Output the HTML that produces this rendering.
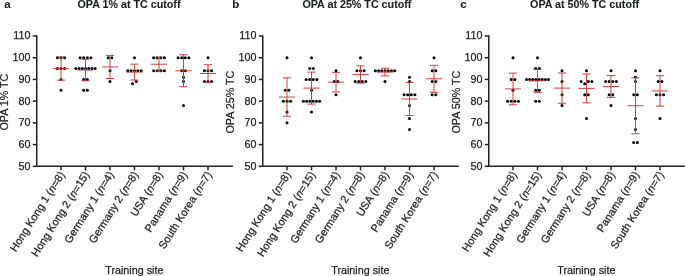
<!DOCTYPE html>
<html><head><meta charset="utf-8"><style>
html,body{margin:0;padding:0;background:#fff;width:685px;height:276px;overflow:hidden}
svg{display:block;will-change:transform}
.t{font-family:"Liberation Sans",sans-serif;font-size:10.75px;fill:#1c2020;stroke:#1c2020;stroke-width:0.25px}
.b{font-family:"Liberation Sans",sans-serif;font-weight:bold;fill:#1c2020;stroke:#1c2020;stroke-width:0.1px}
</style></head><body>
<svg width="685" height="276" viewBox="0 0 685 276">
<rect width="685" height="276" fill="#fff"/>
<path d="M36.75 35.25V166.30H232.90" fill="none" stroke="#1e2222" stroke-width="1.5"/>
<path d="M32.75 166.30H36.75" stroke="#1e2222" stroke-width="1.5"/>
<text x="30.50" y="169.70" text-anchor="end" class="t">50</text>
<path d="M32.75 144.58H36.75" stroke="#1e2222" stroke-width="1.5"/>
<text x="30.50" y="147.98" text-anchor="end" class="t">60</text>
<path d="M32.75 122.87H36.75" stroke="#1e2222" stroke-width="1.5"/>
<text x="30.50" y="126.27" text-anchor="end" class="t">70</text>
<path d="M32.75 101.15H36.75" stroke="#1e2222" stroke-width="1.5"/>
<text x="30.50" y="104.55" text-anchor="end" class="t">80</text>
<path d="M32.75 79.43H36.75" stroke="#1e2222" stroke-width="1.5"/>
<text x="30.50" y="82.83" text-anchor="end" class="t">90</text>
<path d="M32.75 57.72H36.75" stroke="#1e2222" stroke-width="1.5"/>
<text x="30.50" y="61.12" text-anchor="end" class="t">100</text>
<path d="M32.75 36.00H36.75" stroke="#1e2222" stroke-width="1.5"/>
<text x="30.50" y="39.40" text-anchor="end" class="t">110</text>
<path d="M61.00 166.30V170.30" stroke="#1e2222" stroke-width="1.5"/>
<text transform="translate(65.30 174.50) rotate(-57.5)" text-anchor="end" class="t" style="font-size:10.9px">Hong Kong 1 (<tspan font-style="italic">n</tspan>=8)</text>
<path d="M85.50 166.30V170.30" stroke="#1e2222" stroke-width="1.5"/>
<text transform="translate(89.80 174.50) rotate(-57.5)" text-anchor="end" class="t" style="font-size:10.9px">Hong Kong 2 (<tspan font-style="italic">n</tspan>=15)</text>
<path d="M110.00 166.30V170.30" stroke="#1e2222" stroke-width="1.5"/>
<text transform="translate(114.30 174.50) rotate(-57.5)" text-anchor="end" class="t" style="font-size:10.9px">Germany 1 (<tspan font-style="italic">n</tspan>=4)</text>
<path d="M134.50 166.30V170.30" stroke="#1e2222" stroke-width="1.5"/>
<text transform="translate(138.80 174.50) rotate(-57.5)" text-anchor="end" class="t" style="font-size:10.9px">Germany 2 (<tspan font-style="italic">n</tspan>=8)</text>
<path d="M159.00 166.30V170.30" stroke="#1e2222" stroke-width="1.5"/>
<text transform="translate(163.30 174.50) rotate(-57.5)" text-anchor="end" class="t" style="font-size:10.9px">USA (<tspan font-style="italic">n</tspan>=8)</text>
<path d="M183.50 166.30V170.30" stroke="#1e2222" stroke-width="1.5"/>
<text transform="translate(187.80 174.50) rotate(-57.5)" text-anchor="end" class="t" style="font-size:10.9px">Panama (<tspan font-style="italic">n</tspan>=9)</text>
<path d="M208.00 166.30V170.30" stroke="#1e2222" stroke-width="1.5"/>
<text transform="translate(212.30 174.50) rotate(-57.5)" text-anchor="end" class="t" style="font-size:10.9px">South Korea (<tspan font-style="italic">n</tspan>=7)</text>
<circle cx="57.40" cy="57.72" r="1.5" fill="#000"/>
<circle cx="61.00" cy="57.72" r="1.5" fill="#000"/>
<circle cx="64.60" cy="57.72" r="1.5" fill="#000"/>
<circle cx="57.40" cy="68.57" r="1.5" fill="#000"/>
<circle cx="61.00" cy="68.57" r="1.5" fill="#000"/>
<circle cx="64.60" cy="68.57" r="1.5" fill="#000"/>
<circle cx="61.00" cy="79.43" r="1.5" fill="#000"/>
<circle cx="61.00" cy="90.29" r="1.5" fill="#000"/>
<circle cx="80.10" cy="57.72" r="1.5" fill="#000"/>
<circle cx="83.70" cy="57.72" r="1.5" fill="#000"/>
<circle cx="87.30" cy="57.72" r="1.5" fill="#000"/>
<circle cx="90.90" cy="57.72" r="1.5" fill="#000"/>
<circle cx="75.90" cy="68.57" r="1.5" fill="#000"/>
<circle cx="79.10" cy="68.57" r="1.5" fill="#000"/>
<circle cx="82.30" cy="68.57" r="1.5" fill="#000"/>
<circle cx="85.50" cy="68.57" r="1.5" fill="#000"/>
<circle cx="88.70" cy="68.57" r="1.5" fill="#000"/>
<circle cx="91.90" cy="68.57" r="1.5" fill="#000"/>
<circle cx="95.10" cy="68.57" r="1.5" fill="#000"/>
<circle cx="83.70" cy="79.43" r="1.5" fill="#000"/>
<circle cx="87.30" cy="79.43" r="1.5" fill="#000"/>
<circle cx="83.70" cy="90.29" r="1.5" fill="#000"/>
<circle cx="87.30" cy="90.29" r="1.5" fill="#000"/>
<circle cx="108.20" cy="57.72" r="1.5" fill="#000"/>
<circle cx="111.80" cy="57.72" r="1.5" fill="#000"/>
<circle cx="110.00" cy="70.75" r="1.5" fill="#000"/>
<circle cx="110.00" cy="81.60" r="1.5" fill="#000"/>
<circle cx="134.50" cy="57.72" r="1.5" fill="#000"/>
<circle cx="127.80" cy="70.75" r="1.5" fill="#000"/>
<circle cx="131.15" cy="70.75" r="1.5" fill="#000"/>
<circle cx="134.50" cy="70.75" r="1.5" fill="#000"/>
<circle cx="137.85" cy="70.75" r="1.5" fill="#000"/>
<circle cx="141.20" cy="70.75" r="1.5" fill="#000"/>
<circle cx="136.30" cy="81.60" r="1.5" fill="#000"/>
<circle cx="132.50" cy="83.78" r="1.5" fill="#000"/>
<circle cx="153.60" cy="57.72" r="1.5" fill="#000"/>
<circle cx="157.20" cy="57.72" r="1.5" fill="#000"/>
<circle cx="160.80" cy="57.72" r="1.5" fill="#000"/>
<circle cx="164.40" cy="57.72" r="1.5" fill="#000"/>
<circle cx="153.60" cy="70.75" r="1.5" fill="#000"/>
<circle cx="157.20" cy="70.75" r="1.5" fill="#000"/>
<circle cx="160.80" cy="70.75" r="1.5" fill="#000"/>
<circle cx="164.40" cy="70.75" r="1.5" fill="#000"/>
<circle cx="178.10" cy="57.72" r="1.5" fill="#000"/>
<circle cx="181.70" cy="57.72" r="1.5" fill="#000"/>
<circle cx="185.30" cy="57.72" r="1.5" fill="#000"/>
<circle cx="188.90" cy="57.72" r="1.5" fill="#000"/>
<circle cx="181.70" cy="70.75" r="1.5" fill="#000"/>
<circle cx="185.30" cy="70.75" r="1.5" fill="#000"/>
<circle cx="183.50" cy="77.26" r="1.5" fill="#000"/>
<circle cx="183.50" cy="81.60" r="1.5" fill="#000"/>
<circle cx="183.50" cy="105.49" r="1.5" fill="#000"/>
<circle cx="208.00" cy="57.72" r="1.5" fill="#000"/>
<circle cx="204.40" cy="70.75" r="1.5" fill="#000"/>
<circle cx="208.00" cy="70.75" r="1.5" fill="#000"/>
<circle cx="211.60" cy="70.75" r="1.5" fill="#000"/>
<circle cx="204.40" cy="81.60" r="1.5" fill="#000"/>
<circle cx="208.00" cy="81.60" r="1.5" fill="#000"/>
<circle cx="211.60" cy="81.60" r="1.5" fill="#000"/>
<path d="M61.00 56.97V80.18M56.85 56.97H65.15M56.85 80.18H65.15M52.90 68.57H69.10" fill="none" stroke="#c9332e" stroke-width="1.0" stroke-opacity="0.92"/>
<path d="M85.50 59.27V80.78M81.35 59.27H89.65M81.35 80.78H89.65M77.40 70.02H93.60" fill="none" stroke="#c9332e" stroke-width="1.0" stroke-opacity="0.92"/>
<path d="M110.00 55.40V78.49M105.85 55.40H114.15M105.85 78.49H114.15M101.90 66.94H118.10" fill="none" stroke="#c9332e" stroke-width="1.0" stroke-opacity="0.92"/>
<path d="M134.50 64.15V80.06M130.35 64.15H138.65M130.35 80.06H138.65M126.40 72.10H142.60" fill="none" stroke="#c9332e" stroke-width="1.0" stroke-opacity="0.92"/>
<path d="M159.00 57.27V71.20M154.85 57.27H163.15M154.85 71.20H163.15M150.90 64.23H167.10" fill="none" stroke="#c9332e" stroke-width="1.0" stroke-opacity="0.92"/>
<path d="M183.50 54.75V86.74M179.35 54.75H187.65M179.35 86.74H187.65M175.40 70.75H191.60" fill="none" stroke="#c9332e" stroke-width="1.0" stroke-opacity="0.92"/>
<path d="M208.00 64.70V82.38M203.85 64.70H212.15M203.85 82.38H212.15M199.90 73.54H216.10" fill="none" stroke="#c9332e" stroke-width="1.0" stroke-opacity="0.92"/>
<text x="4.30" y="8.10" class="b" style="font-size:11.5px">a</text>
<text x="129.00" y="8.10" class="b" text-anchor="middle" style="font-size:10.73px">OPA 1% at TC cutoff</text>
<text transform="translate(8.20 102.10) rotate(-90)" text-anchor="middle" class="t">OPA 1% TC</text>
<text x="134.30" y="273.70" text-anchor="middle" class="t">Training site</text>
<path d="M262.75 35.25V166.30H458.90" fill="none" stroke="#1e2222" stroke-width="1.5"/>
<path d="M258.75 166.30H262.75" stroke="#1e2222" stroke-width="1.5"/>
<text x="256.50" y="169.70" text-anchor="end" class="t">50</text>
<path d="M258.75 144.58H262.75" stroke="#1e2222" stroke-width="1.5"/>
<text x="256.50" y="147.98" text-anchor="end" class="t">60</text>
<path d="M258.75 122.87H262.75" stroke="#1e2222" stroke-width="1.5"/>
<text x="256.50" y="126.27" text-anchor="end" class="t">70</text>
<path d="M258.75 101.15H262.75" stroke="#1e2222" stroke-width="1.5"/>
<text x="256.50" y="104.55" text-anchor="end" class="t">80</text>
<path d="M258.75 79.43H262.75" stroke="#1e2222" stroke-width="1.5"/>
<text x="256.50" y="82.83" text-anchor="end" class="t">90</text>
<path d="M258.75 57.72H262.75" stroke="#1e2222" stroke-width="1.5"/>
<text x="256.50" y="61.12" text-anchor="end" class="t">100</text>
<path d="M258.75 36.00H262.75" stroke="#1e2222" stroke-width="1.5"/>
<text x="256.50" y="39.40" text-anchor="end" class="t">110</text>
<path d="M287.00 166.30V170.30" stroke="#1e2222" stroke-width="1.5"/>
<text transform="translate(291.30 174.50) rotate(-57.5)" text-anchor="end" class="t" style="font-size:10.9px">Hong Kong 1 (<tspan font-style="italic">n</tspan>=8)</text>
<path d="M311.50 166.30V170.30" stroke="#1e2222" stroke-width="1.5"/>
<text transform="translate(315.80 174.50) rotate(-57.5)" text-anchor="end" class="t" style="font-size:10.9px">Hong Kong 2 (<tspan font-style="italic">n</tspan>=15)</text>
<path d="M336.00 166.30V170.30" stroke="#1e2222" stroke-width="1.5"/>
<text transform="translate(340.30 174.50) rotate(-57.5)" text-anchor="end" class="t" style="font-size:10.9px">Germany 1 (<tspan font-style="italic">n</tspan>=4)</text>
<path d="M360.50 166.30V170.30" stroke="#1e2222" stroke-width="1.5"/>
<text transform="translate(364.80 174.50) rotate(-57.5)" text-anchor="end" class="t" style="font-size:10.9px">Germany 2 (<tspan font-style="italic">n</tspan>=8)</text>
<path d="M385.00 166.30V170.30" stroke="#1e2222" stroke-width="1.5"/>
<text transform="translate(389.30 174.50) rotate(-57.5)" text-anchor="end" class="t" style="font-size:10.9px">USA (<tspan font-style="italic">n</tspan>=8)</text>
<path d="M409.50 166.30V170.30" stroke="#1e2222" stroke-width="1.5"/>
<text transform="translate(413.80 174.50) rotate(-57.5)" text-anchor="end" class="t" style="font-size:10.9px">Panama (<tspan font-style="italic">n</tspan>=9)</text>
<path d="M434.00 166.30V170.30" stroke="#1e2222" stroke-width="1.5"/>
<text transform="translate(438.30 174.50) rotate(-57.5)" text-anchor="end" class="t" style="font-size:10.9px">South Korea (<tspan font-style="italic">n</tspan>=7)</text>
<circle cx="287.00" cy="57.72" r="1.5" fill="#000"/>
<circle cx="285.20" cy="90.29" r="1.5" fill="#000"/>
<circle cx="288.80" cy="90.29" r="1.5" fill="#000"/>
<circle cx="283.40" cy="101.15" r="1.5" fill="#000"/>
<circle cx="287.00" cy="101.15" r="1.5" fill="#000"/>
<circle cx="290.60" cy="101.15" r="1.5" fill="#000"/>
<circle cx="287.00" cy="112.01" r="1.5" fill="#000"/>
<circle cx="287.00" cy="122.87" r="1.5" fill="#000"/>
<circle cx="311.50" cy="57.72" r="1.5" fill="#000"/>
<circle cx="309.70" cy="68.57" r="1.5" fill="#000"/>
<circle cx="313.30" cy="68.57" r="1.5" fill="#000"/>
<circle cx="306.10" cy="79.43" r="1.5" fill="#000"/>
<circle cx="309.70" cy="79.43" r="1.5" fill="#000"/>
<circle cx="313.30" cy="79.43" r="1.5" fill="#000"/>
<circle cx="316.90" cy="79.43" r="1.5" fill="#000"/>
<circle cx="311.50" cy="90.29" r="1.5" fill="#000"/>
<circle cx="303.38" cy="101.15" r="1.5" fill="#000"/>
<circle cx="306.62" cy="101.15" r="1.5" fill="#000"/>
<circle cx="309.88" cy="101.15" r="1.5" fill="#000"/>
<circle cx="313.12" cy="101.15" r="1.5" fill="#000"/>
<circle cx="316.38" cy="101.15" r="1.5" fill="#000"/>
<circle cx="319.62" cy="101.15" r="1.5" fill="#000"/>
<circle cx="311.50" cy="112.01" r="1.5" fill="#000"/>
<circle cx="336.00" cy="70.75" r="1.5" fill="#000"/>
<circle cx="334.20" cy="81.60" r="1.5" fill="#000"/>
<circle cx="337.80" cy="81.60" r="1.5" fill="#000"/>
<circle cx="336.00" cy="94.63" r="1.5" fill="#000"/>
<circle cx="360.50" cy="57.72" r="1.5" fill="#000"/>
<circle cx="356.90" cy="70.75" r="1.5" fill="#000"/>
<circle cx="360.50" cy="70.75" r="1.5" fill="#000"/>
<circle cx="364.10" cy="70.75" r="1.5" fill="#000"/>
<circle cx="355.10" cy="81.60" r="1.5" fill="#000"/>
<circle cx="358.70" cy="81.60" r="1.5" fill="#000"/>
<circle cx="362.30" cy="81.60" r="1.5" fill="#000"/>
<circle cx="365.90" cy="81.60" r="1.5" fill="#000"/>
<circle cx="375.40" cy="70.75" r="1.5" fill="#000"/>
<circle cx="378.60" cy="70.75" r="1.5" fill="#000"/>
<circle cx="381.80" cy="70.75" r="1.5" fill="#000"/>
<circle cx="385.00" cy="70.75" r="1.5" fill="#000"/>
<circle cx="388.20" cy="70.75" r="1.5" fill="#000"/>
<circle cx="391.40" cy="70.75" r="1.5" fill="#000"/>
<circle cx="394.60" cy="70.75" r="1.5" fill="#000"/>
<circle cx="385.00" cy="81.60" r="1.5" fill="#000"/>
<circle cx="409.50" cy="77.26" r="1.5" fill="#000"/>
<circle cx="409.50" cy="81.60" r="1.5" fill="#000"/>
<circle cx="404.10" cy="94.63" r="1.5" fill="#000"/>
<circle cx="407.70" cy="94.63" r="1.5" fill="#000"/>
<circle cx="411.30" cy="94.63" r="1.5" fill="#000"/>
<circle cx="414.90" cy="94.63" r="1.5" fill="#000"/>
<circle cx="409.50" cy="105.49" r="1.5" fill="#000"/>
<circle cx="409.50" cy="118.52" r="1.5" fill="#000"/>
<circle cx="409.50" cy="129.38" r="1.5" fill="#000"/>
<circle cx="434.00" cy="57.72" r="1.5" fill="#000"/>
<circle cx="432.20" cy="70.75" r="1.5" fill="#000"/>
<circle cx="435.80" cy="70.75" r="1.5" fill="#000"/>
<circle cx="432.20" cy="81.60" r="1.5" fill="#000"/>
<circle cx="435.80" cy="81.60" r="1.5" fill="#000"/>
<circle cx="432.20" cy="94.63" r="1.5" fill="#000"/>
<circle cx="435.80" cy="94.63" r="1.5" fill="#000"/>
<path d="M287.00 77.88V116.27M282.85 77.88H291.15M282.85 116.27H291.15M278.90 97.08H295.10" fill="none" stroke="#c9332e" stroke-width="1.0" stroke-opacity="0.92"/>
<path d="M311.50 72.12V104.12M307.35 72.12H315.65M307.35 104.12H315.65M303.40 88.12H319.60" fill="none" stroke="#c9332e" stroke-width="1.0" stroke-opacity="0.92"/>
<path d="M336.00 72.37V91.92M331.85 72.37H340.15M331.85 91.92H340.15M327.90 82.15H344.10" fill="none" stroke="#c9332e" stroke-width="1.0" stroke-opacity="0.92"/>
<path d="M360.50 65.88V83.21M356.35 65.88H364.65M356.35 83.21H364.65M352.40 74.55H368.60" fill="none" stroke="#c9332e" stroke-width="1.0" stroke-opacity="0.92"/>
<path d="M385.00 68.26V75.94M380.85 68.26H389.15M380.85 75.94H389.15M376.90 72.10H393.10" fill="none" stroke="#c9332e" stroke-width="1.0" stroke-opacity="0.92"/>
<path d="M409.50 82.40V115.55M405.35 82.40H413.65M405.35 115.55H413.65M401.40 98.98H417.60" fill="none" stroke="#c9332e" stroke-width="1.0" stroke-opacity="0.92"/>
<path d="M434.00 65.32V92.30M429.85 65.32H438.15M429.85 92.30H438.15M425.90 78.81H442.10" fill="none" stroke="#c9332e" stroke-width="1.0" stroke-opacity="0.92"/>
<text x="232.30" y="8.10" class="b" style="font-size:11.5px">b</text>
<text x="356.90" y="8.10" class="b" text-anchor="middle" style="font-size:10.73px">OPA at 25% TC cutoff</text>
<text transform="translate(234.20 102.10) rotate(-90)" text-anchor="middle" class="t">OPA 25% TC</text>
<text x="360.30" y="273.70" text-anchor="middle" class="t">Training site</text>
<path d="M488.75 35.25V166.30H684.90" fill="none" stroke="#1e2222" stroke-width="1.5"/>
<path d="M484.75 166.30H488.75" stroke="#1e2222" stroke-width="1.5"/>
<text x="482.50" y="169.70" text-anchor="end" class="t">50</text>
<path d="M484.75 144.58H488.75" stroke="#1e2222" stroke-width="1.5"/>
<text x="482.50" y="147.98" text-anchor="end" class="t">60</text>
<path d="M484.75 122.87H488.75" stroke="#1e2222" stroke-width="1.5"/>
<text x="482.50" y="126.27" text-anchor="end" class="t">70</text>
<path d="M484.75 101.15H488.75" stroke="#1e2222" stroke-width="1.5"/>
<text x="482.50" y="104.55" text-anchor="end" class="t">80</text>
<path d="M484.75 79.43H488.75" stroke="#1e2222" stroke-width="1.5"/>
<text x="482.50" y="82.83" text-anchor="end" class="t">90</text>
<path d="M484.75 57.72H488.75" stroke="#1e2222" stroke-width="1.5"/>
<text x="482.50" y="61.12" text-anchor="end" class="t">100</text>
<path d="M484.75 36.00H488.75" stroke="#1e2222" stroke-width="1.5"/>
<text x="482.50" y="39.40" text-anchor="end" class="t">110</text>
<path d="M513.00 166.30V170.30" stroke="#1e2222" stroke-width="1.5"/>
<text transform="translate(517.30 174.50) rotate(-57.5)" text-anchor="end" class="t" style="font-size:10.9px">Hong Kong 1 (<tspan font-style="italic">n</tspan>=8)</text>
<path d="M537.50 166.30V170.30" stroke="#1e2222" stroke-width="1.5"/>
<text transform="translate(541.80 174.50) rotate(-57.5)" text-anchor="end" class="t" style="font-size:10.9px">Hong Kong 2 (<tspan font-style="italic">n</tspan>=15)</text>
<path d="M562.00 166.30V170.30" stroke="#1e2222" stroke-width="1.5"/>
<text transform="translate(566.30 174.50) rotate(-57.5)" text-anchor="end" class="t" style="font-size:10.9px">Germany 1 (<tspan font-style="italic">n</tspan>=4)</text>
<path d="M586.50 166.30V170.30" stroke="#1e2222" stroke-width="1.5"/>
<text transform="translate(590.80 174.50) rotate(-57.5)" text-anchor="end" class="t" style="font-size:10.9px">Germany 2 (<tspan font-style="italic">n</tspan>=8)</text>
<path d="M611.00 166.30V170.30" stroke="#1e2222" stroke-width="1.5"/>
<text transform="translate(615.30 174.50) rotate(-57.5)" text-anchor="end" class="t" style="font-size:10.9px">USA (<tspan font-style="italic">n</tspan>=8)</text>
<path d="M635.50 166.30V170.30" stroke="#1e2222" stroke-width="1.5"/>
<text transform="translate(639.80 174.50) rotate(-57.5)" text-anchor="end" class="t" style="font-size:10.9px">Panama (<tspan font-style="italic">n</tspan>=9)</text>
<path d="M660.00 166.30V170.30" stroke="#1e2222" stroke-width="1.5"/>
<text transform="translate(664.30 174.50) rotate(-57.5)" text-anchor="end" class="t" style="font-size:10.9px">South Korea (<tspan font-style="italic">n</tspan>=7)</text>
<circle cx="513.00" cy="57.72" r="1.5" fill="#000"/>
<circle cx="511.20" cy="79.43" r="1.5" fill="#000"/>
<circle cx="514.80" cy="79.43" r="1.5" fill="#000"/>
<circle cx="513.00" cy="90.29" r="1.5" fill="#000"/>
<circle cx="507.60" cy="101.15" r="1.5" fill="#000"/>
<circle cx="511.20" cy="101.15" r="1.5" fill="#000"/>
<circle cx="514.80" cy="101.15" r="1.5" fill="#000"/>
<circle cx="518.40" cy="101.15" r="1.5" fill="#000"/>
<circle cx="537.50" cy="57.72" r="1.5" fill="#000"/>
<circle cx="535.70" cy="68.57" r="1.5" fill="#000"/>
<circle cx="539.30" cy="68.57" r="1.5" fill="#000"/>
<circle cx="526.54" cy="79.43" r="1.5" fill="#000"/>
<circle cx="529.67" cy="79.43" r="1.5" fill="#000"/>
<circle cx="532.80" cy="79.43" r="1.5" fill="#000"/>
<circle cx="535.93" cy="79.43" r="1.5" fill="#000"/>
<circle cx="539.07" cy="79.43" r="1.5" fill="#000"/>
<circle cx="542.20" cy="79.43" r="1.5" fill="#000"/>
<circle cx="545.33" cy="79.43" r="1.5" fill="#000"/>
<circle cx="548.46" cy="79.43" r="1.5" fill="#000"/>
<circle cx="535.70" cy="90.29" r="1.5" fill="#000"/>
<circle cx="539.30" cy="90.29" r="1.5" fill="#000"/>
<circle cx="535.70" cy="101.15" r="1.5" fill="#000"/>
<circle cx="539.30" cy="101.15" r="1.5" fill="#000"/>
<circle cx="562.00" cy="70.75" r="1.5" fill="#000"/>
<circle cx="562.00" cy="81.60" r="1.5" fill="#000"/>
<circle cx="562.00" cy="94.63" r="1.5" fill="#000"/>
<circle cx="562.00" cy="105.49" r="1.5" fill="#000"/>
<circle cx="586.50" cy="70.75" r="1.5" fill="#000"/>
<circle cx="581.10" cy="81.60" r="1.5" fill="#000"/>
<circle cx="588.30" cy="81.60" r="1.5" fill="#000"/>
<circle cx="591.90" cy="81.60" r="1.5" fill="#000"/>
<circle cx="584.70" cy="83.78" r="1.5" fill="#000"/>
<circle cx="584.70" cy="94.63" r="1.5" fill="#000"/>
<circle cx="588.30" cy="94.63" r="1.5" fill="#000"/>
<circle cx="586.50" cy="118.52" r="1.5" fill="#000"/>
<circle cx="611.00" cy="70.75" r="1.5" fill="#000"/>
<circle cx="605.60" cy="81.60" r="1.5" fill="#000"/>
<circle cx="609.20" cy="81.60" r="1.5" fill="#000"/>
<circle cx="612.80" cy="81.60" r="1.5" fill="#000"/>
<circle cx="616.40" cy="81.60" r="1.5" fill="#000"/>
<circle cx="609.20" cy="94.63" r="1.5" fill="#000"/>
<circle cx="612.80" cy="94.63" r="1.5" fill="#000"/>
<circle cx="611.00" cy="105.49" r="1.5" fill="#000"/>
<circle cx="635.50" cy="70.75" r="1.5" fill="#000"/>
<circle cx="635.50" cy="77.26" r="1.5" fill="#000"/>
<circle cx="635.50" cy="81.60" r="1.5" fill="#000"/>
<circle cx="633.70" cy="94.63" r="1.5" fill="#000"/>
<circle cx="637.30" cy="94.63" r="1.5" fill="#000"/>
<circle cx="635.50" cy="118.52" r="1.5" fill="#000"/>
<circle cx="635.50" cy="129.38" r="1.5" fill="#000"/>
<circle cx="633.70" cy="142.41" r="1.5" fill="#000"/>
<circle cx="637.30" cy="142.41" r="1.5" fill="#000"/>
<circle cx="660.00" cy="70.75" r="1.5" fill="#000"/>
<circle cx="658.20" cy="81.60" r="1.5" fill="#000"/>
<circle cx="661.80" cy="81.60" r="1.5" fill="#000"/>
<circle cx="656.40" cy="94.63" r="1.5" fill="#000"/>
<circle cx="660.00" cy="94.63" r="1.5" fill="#000"/>
<circle cx="663.60" cy="94.63" r="1.5" fill="#000"/>
<circle cx="660.00" cy="118.52" r="1.5" fill="#000"/>
<path d="M513.00 73.10V104.76M508.85 73.10H517.15M508.85 104.76H517.15M504.90 88.93H521.10" fill="none" stroke="#c9332e" stroke-width="1.0" stroke-opacity="0.92"/>
<path d="M537.50 69.37V92.39M533.35 69.37H541.65M533.35 92.39H541.65M529.40 80.88H545.60" fill="none" stroke="#c9332e" stroke-width="1.0" stroke-opacity="0.92"/>
<path d="M562.00 72.97V103.27M557.85 72.97H566.15M557.85 103.27H566.15M553.90 88.12H570.10" fill="none" stroke="#c9332e" stroke-width="1.0" stroke-opacity="0.92"/>
<path d="M586.50 73.96V102.82M582.35 73.96H590.65M582.35 102.82H590.65M578.40 88.39H594.60" fill="none" stroke="#c9332e" stroke-width="1.0" stroke-opacity="0.92"/>
<path d="M611.00 75.55V97.43M606.85 75.55H615.15M606.85 97.43H615.15M602.90 86.49H619.10" fill="none" stroke="#c9332e" stroke-width="1.0" stroke-opacity="0.92"/>
<path d="M635.50 77.72V133.74M631.35 77.72H639.65M631.35 133.74H639.65M627.40 105.73H643.60" fill="none" stroke="#c9332e" stroke-width="1.0" stroke-opacity="0.92"/>
<path d="M660.00 75.72V106.10M655.85 75.72H664.15M655.85 106.10H664.15M651.90 90.91H668.10" fill="none" stroke="#c9332e" stroke-width="1.0" stroke-opacity="0.92"/>
<text x="460.20" y="8.10" class="b" style="font-size:11.5px">c</text>
<text x="584.60" y="8.10" class="b" text-anchor="middle" style="font-size:10.73px">OPA at 50% TC cutoff</text>
<text transform="translate(460.20 102.10) rotate(-90)" text-anchor="middle" class="t">OPA 50% TC</text>
<text x="586.30" y="273.70" text-anchor="middle" class="t">Training site</text>
</svg>
</body></html>
